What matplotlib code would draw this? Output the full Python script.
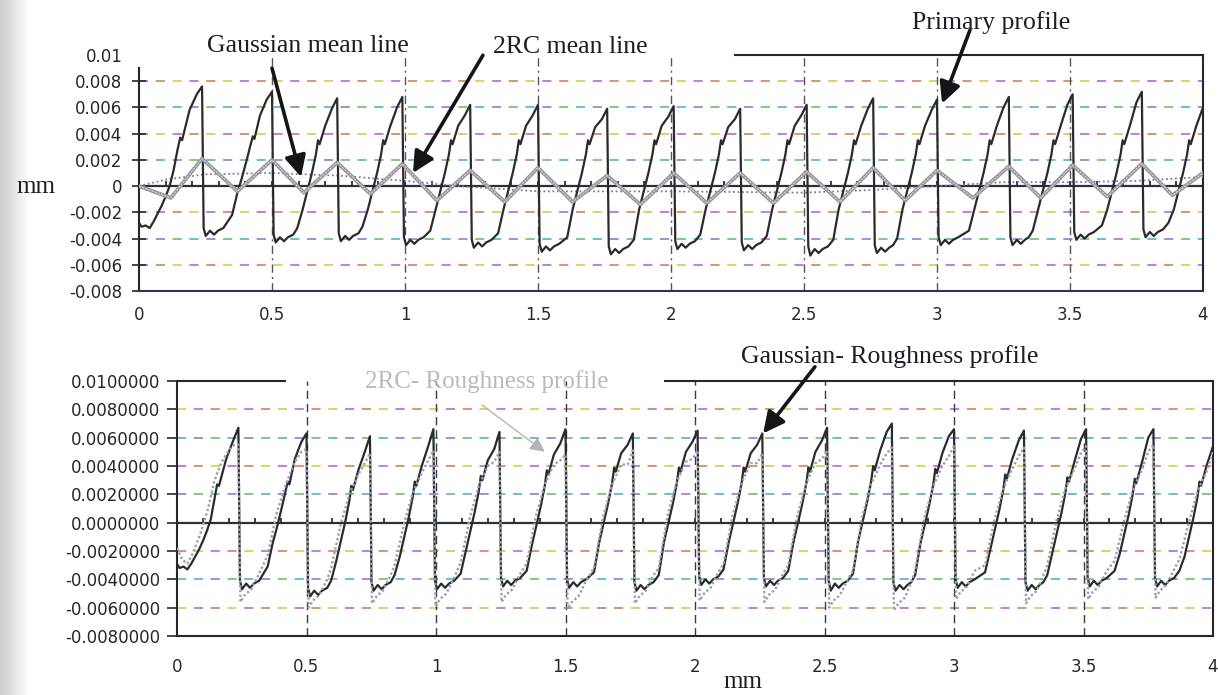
import numpy as np
import matplotlib
matplotlib.use('Agg')
import matplotlib.pyplot as plt

# ---------------- measured profiles (mm) ----------------
primary_x = [
    0.000, 0.010, 0.025, 0.040, 0.055, 0.070, 0.085, 0.100, 0.115, 0.130, 0.145, 0.155, 0.162, 0.190, 0.217,
    0.237, 0.243, 0.251, 0.267, 0.282, 0.297, 0.317, 0.350, 0.370, 0.385, 0.405, 0.420, 0.428, 0.434, 0.455, 0.480,
    0.500, 0.506, 0.514, 0.530, 0.545, 0.560, 0.580, 0.595, 0.615, 0.630, 0.650, 0.665, 0.673, 0.679, 0.700, 0.725,
    0.745, 0.751, 0.759, 0.775, 0.790, 0.805, 0.825, 0.840, 0.860, 0.875, 0.895, 0.910, 0.918, 0.924, 0.945, 0.970,
    0.990, 0.996, 1.004, 1.020, 1.035, 1.050, 1.070, 1.095, 1.115, 1.130, 1.150, 1.165, 1.173, 1.179, 1.200, 1.225,
    1.245, 1.251, 1.259, 1.275, 1.290, 1.305, 1.325, 1.350, 1.370, 1.385, 1.405, 1.420, 1.428, 1.434, 1.455, 1.480,
    1.500, 1.506, 1.514, 1.530, 1.545, 1.560, 1.580, 1.610, 1.630, 1.645, 1.665, 1.680, 1.688, 1.694, 1.715, 1.740,
    1.760, 1.766, 1.774, 1.790, 1.805, 1.820, 1.840, 1.860, 1.880, 1.895, 1.915, 1.930, 1.938, 1.944, 1.965, 1.990,
    2.010, 2.016, 2.024, 2.040, 2.055, 2.070, 2.090, 2.110, 2.130, 2.145, 2.165, 2.180, 2.188, 2.194, 2.215, 2.240,
    2.260, 2.266, 2.274, 2.290, 2.305, 2.320, 2.340, 2.360, 2.380, 2.395, 2.415, 2.430, 2.438, 2.444, 2.465, 2.490,
    2.510, 2.516, 2.524, 2.540, 2.555, 2.570, 2.590, 2.610, 2.630, 2.645, 2.665, 2.680, 2.688, 2.694, 2.715, 2.740,
    2.760, 2.766, 2.774, 2.790, 2.805, 2.820, 2.835, 2.850, 2.870, 2.885, 2.905, 2.920, 2.928, 2.934, 2.955, 2.980,
    3.000, 3.006, 3.014, 3.030, 3.045, 3.060, 3.080, 3.120, 3.140, 3.155, 3.175, 3.190, 3.198, 3.204, 3.225, 3.250,
    3.270, 3.276, 3.284, 3.300, 3.315, 3.330, 3.345, 3.360, 3.380, 3.395, 3.415, 3.430, 3.438, 3.444, 3.465, 3.490,
    3.510, 3.516, 3.524, 3.540, 3.555, 3.570, 3.590, 3.620, 3.640, 3.655, 3.675, 3.690, 3.698, 3.704, 3.725, 3.750,
    3.770, 3.776, 3.784, 3.800, 3.815, 3.830, 3.850, 3.870, 3.890, 3.905, 3.925, 3.940, 3.948, 3.954, 3.975, 4.000,
]

primary_y = [
    -0.0028, -0.0031, -0.0030, -0.0032, -0.0027, -0.0021, -0.0015, -0.0008, 0.0000, 0.0012, 0.0028, 0.0037, 0.0035, 0.0058, 0.0070,
    0.0076, -0.0032, -0.0038, -0.0034, -0.0037, -0.0034, -0.0032, -0.0022, -0.0005, 0.0005, 0.0020, 0.0032, 0.0038, 0.0036, 0.0054, 0.0066,
    0.0072, -0.0037, -0.0043, -0.0039, -0.0042, -0.0039, -0.0037, -0.0032, -0.0018, -0.0006, 0.0010, 0.0024, 0.0035, 0.0032, 0.0046, 0.0059,
    0.0067, -0.0036, -0.0042, -0.0038, -0.0041, -0.0038, -0.0036, -0.0031, -0.0018, -0.0006, 0.0010, 0.0024, 0.0035, 0.0032, 0.0046, 0.0060,
    0.0068, -0.0039, -0.0045, -0.0041, -0.0044, -0.0041, -0.0039, -0.0034, -0.0018, -0.0006, 0.0010, 0.0024, 0.0035, 0.0032, 0.0046, 0.0054,
    0.0062, -0.0041, -0.0047, -0.0043, -0.0046, -0.0043, -0.0041, -0.0036, -0.0018, -0.0006, 0.0010, 0.0024, 0.0035, 0.0032, 0.0046, 0.0054,
    0.0062, -0.0044, -0.0050, -0.0046, -0.0049, -0.0046, -0.0044, -0.0039, -0.0018, -0.0006, 0.0010, 0.0024, 0.0035, 0.0032, 0.0045, 0.0051,
    0.0059, -0.0046, -0.0052, -0.0048, -0.0051, -0.0048, -0.0046, -0.0041, -0.0018, -0.0006, 0.0010, 0.0024, 0.0035, 0.0032, 0.0046, 0.0053,
    0.0061, -0.0042, -0.0048, -0.0044, -0.0047, -0.0044, -0.0042, -0.0037, -0.0018, -0.0006, 0.0010, 0.0024, 0.0035, 0.0032, 0.0045, 0.0051,
    0.0059, -0.0043, -0.0049, -0.0045, -0.0048, -0.0045, -0.0043, -0.0038, -0.0018, -0.0006, 0.0010, 0.0024, 0.0035, 0.0032, 0.0046, 0.0054,
    0.0062, -0.0046, -0.0053, -0.0048, -0.0051, -0.0048, -0.0046, -0.0041, -0.0018, -0.0006, 0.0010, 0.0024, 0.0035, 0.0032, 0.0046, 0.0059,
    0.0067, -0.0045, -0.0051, -0.0047, -0.0050, -0.0047, -0.0045, -0.0040, -0.0018, -0.0006, 0.0010, 0.0024, 0.0035, 0.0032, 0.0046, 0.0058,
    0.0066, -0.0039, -0.0045, -0.0041, -0.0044, -0.0041, -0.0039, -0.0034, -0.0018, -0.0006, 0.0010, 0.0024, 0.0035, 0.0032, 0.0046, 0.0060,
    0.0068, -0.0039, -0.0045, -0.0041, -0.0044, -0.0041, -0.0039, -0.0034, -0.0018, -0.0006, 0.0010, 0.0024, 0.0035, 0.0032, 0.0046, 0.0062,
    0.0070, -0.0035, -0.0041, -0.0037, -0.0040, -0.0037, -0.0035, -0.0030, -0.0018, -0.0006, 0.0010, 0.0024, 0.0035, 0.0032, 0.0046, 0.0064,
    0.0072, -0.0033, -0.0039, -0.0035, -0.0038, -0.0035, -0.0033, -0.0028, -0.0018, -0.0006, 0.0010, 0.0024, 0.0035, 0.0032, 0.0046, 0.0060,
]

# Gaussian mean line (slowly varying, dotted)
gauss_mean_x = [0.0, 0.1, 0.25, 0.5, 0.75, 1.0, 1.2, 1.5, 2.0, 2.5, 2.75, 3.0, 3.25, 3.5, 3.75, 4.0]
gauss_mean_y = [0.0, 0.0005, 0.0009, 0.0010, 0.0008, 0.0004, 0.0, -0.0004, -0.0004, -0.0005, -0.0003, 0.0, 0.0003, 0.0003, 0.0004, 0.0007]

# 2RC mean line (zig-zag)
rc_mean_x = [0.0, 0.12, 0.237, 0.37, 0.5, 0.62, 0.745, 0.87, 0.99, 1.12, 1.245, 1.375, 1.5, 1.63, 1.76,
             1.885, 2.01, 2.135, 2.26, 2.385, 2.51, 2.635, 2.76, 2.88, 3.0, 3.135, 3.27, 3.39, 3.51,
             3.64, 3.77, 3.885, 4.0]
rc_mean_y = [0.0, -0.0009, 0.0021, -0.0004, 0.0020, -0.0005, 0.0018, -0.0006, 0.0017, -0.0011, 0.0012,
             -0.0012, 0.0014, -0.0012, 0.0008, -0.0014, 0.0010, -0.0013, 0.0010, -0.0013, 0.0011, -0.0012,
             0.0014, -0.0011, 0.0012, -0.0009, 0.0015, -0.0009, 0.0016, -0.0008, 0.0017, -0.0007, 0.0010]

# Gaussian roughness profile, sampled on primary_x
gauss_rough_y = [
    -0.0029, -0.0032, -0.0031, -0.0033, -0.0029, -0.0024, -0.0019, -0.0013, -0.0006, 0.0002, 0.0017, 0.0027, 0.0026, 0.0045, 0.0058,
    0.0067, -0.0041, -0.0047, -0.0043, -0.0046, -0.0043, -0.0041, -0.0031, -0.0014, -0.0004, 0.0011, 0.0023, 0.0029, 0.0027, 0.0045, 0.0057,
    0.0063, -0.0046, -0.0052, -0.0048, -0.0051, -0.0048, -0.0046, -0.0041, -0.0027, -0.0015, 0.0001, 0.0015, 0.0026, 0.0023, 0.0037, 0.0050,
    0.0061, -0.0042, -0.0048, -0.0044, -0.0047, -0.0044, -0.0042, -0.0037, -0.0024, -0.0012, 0.0004, 0.0018, 0.0029, 0.0026, 0.0040, 0.0054,
    0.0066, -0.0041, -0.0047, -0.0043, -0.0046, -0.0043, -0.0041, -0.0036, -0.0020, -0.0008, 0.0008, 0.0022, 0.0033, 0.0030, 0.0044, 0.0052,
    0.0064, -0.0039, -0.0045, -0.0041, -0.0044, -0.0041, -0.0039, -0.0034, -0.0016, -0.0004, 0.0012, 0.0026, 0.0037, 0.0034, 0.0048, 0.0056,
    0.0066, -0.0040, -0.0046, -0.0042, -0.0045, -0.0042, -0.0040, -0.0035, -0.0014, -0.0002, 0.0014, 0.0028, 0.0039, 0.0036, 0.0049, 0.0055,
    0.0063, -0.0042, -0.0048, -0.0044, -0.0047, -0.0044, -0.0042, -0.0037, -0.0014, -0.0002, 0.0014, 0.0028, 0.0039, 0.0036, 0.0050, 0.0057,
    0.0065, -0.0038, -0.0044, -0.0040, -0.0043, -0.0040, -0.0038, -0.0033, -0.0014, -0.0002, 0.0014, 0.0028, 0.0039, 0.0036, 0.0049, 0.0055,
    0.0063, -0.0039, -0.0045, -0.0041, -0.0044, -0.0041, -0.0039, -0.0034, -0.0014, -0.0002, 0.0014, 0.0028, 0.0039, 0.0036, 0.0050, 0.0058,
    0.0067, -0.0041, -0.0048, -0.0043, -0.0046, -0.0043, -0.0041, -0.0036, -0.0013, -0.0001, 0.0015, 0.0029, 0.0040, 0.0037, 0.0051, 0.0064,
    0.0070, -0.0042, -0.0048, -0.0044, -0.0047, -0.0044, -0.0042, -0.0037, -0.0015, -0.0003, 0.0013, 0.0027, 0.0038, 0.0035, 0.0049, 0.0061,
    0.0066, -0.0040, -0.0046, -0.0042, -0.0045, -0.0042, -0.0040, -0.0035, -0.0019, -0.0007, 0.0009, 0.0023, 0.0034, 0.0031, 0.0045, 0.0058,
    0.0065, -0.0042, -0.0048, -0.0044, -0.0047, -0.0044, -0.0042, -0.0037, -0.0021, -0.0009, 0.0007, 0.0021, 0.0032, 0.0029, 0.0043, 0.0059,
    0.0066, -0.0039, -0.0045, -0.0041, -0.0044, -0.0041, -0.0039, -0.0034, -0.0022, -0.0010, 0.0006, 0.0020, 0.0031, 0.0028, 0.0042, 0.0060,
    0.0066, -0.0039, -0.0045, -0.0041, -0.0044, -0.0041, -0.0039, -0.0034, -0.0024, -0.0012, 0.0004, 0.0018, 0.0029, 0.0026, 0.0040, 0.0054,
]

# 2RC roughness profile
rc_rough_x = [
    0.000, 0.020, 0.040, 0.060, 0.090, 0.120, 0.145, 0.170, 0.200, 0.222,
    0.237, 0.245, 0.262, 0.287, 0.317, 0.350, 0.385, 0.420, 0.455, 0.480,
    0.500, 0.508, 0.525, 0.550, 0.580, 0.595, 0.630, 0.665, 0.700, 0.725,
    0.745, 0.753, 0.770, 0.795, 0.825, 0.840, 0.875, 0.910, 0.945, 0.970,
    0.990, 0.998, 1.015, 1.040, 1.070, 1.095, 1.130, 1.165, 1.200, 1.225,
    1.245, 1.253, 1.270, 1.295, 1.325, 1.350, 1.385, 1.420, 1.455, 1.480,
    1.500, 1.508, 1.525, 1.550, 1.580, 1.610, 1.645, 1.680, 1.715, 1.740,
    1.760, 1.768, 1.785, 1.810, 1.840, 1.860, 1.895, 1.930, 1.965, 1.990,
    2.010, 2.018, 2.035, 2.060, 2.090, 2.110, 2.145, 2.180, 2.215, 2.240,
    2.260, 2.268, 2.285, 2.310, 2.340, 2.360, 2.395, 2.430, 2.465, 2.490,
    2.510, 2.518, 2.535, 2.560, 2.590, 2.610, 2.645, 2.680, 2.715, 2.740,
    2.760, 2.768, 2.785, 2.810, 2.835, 2.850, 2.885, 2.920, 2.955, 2.980,
    3.000, 3.008, 3.025, 3.050, 3.080, 3.120, 3.155, 3.190, 3.225, 3.250,
    3.270, 3.278, 3.295, 3.320, 3.345, 3.360, 3.395, 3.430, 3.465, 3.490,
    3.510, 3.518, 3.535, 3.560, 3.590, 3.620, 3.655, 3.690, 3.725, 3.750,
    3.770, 3.778, 3.795, 3.820, 3.850, 3.870, 3.905, 3.940, 3.975, 4.000,
]
rc_rough_y = [
    -0.0018, -0.0026, -0.0029, -0.0022, -0.0008, 0.0010, 0.0030, 0.0042, 0.0051, 0.0055,
    0.0055, -0.0056, -0.0051, -0.0047, -0.0036, -0.0023, 0.0007, 0.0027, 0.0043, 0.0050,
    0.0052, -0.0060, -0.0055, -0.0051, -0.0040, -0.0032, -0.0003, 0.0020, 0.0034, 0.0042,
    0.0049, -0.0057, -0.0052, -0.0048, -0.0037, -0.0030, -0.0002, 0.0021, 0.0035, 0.0044,
    0.0051, -0.0059, -0.0054, -0.0050, -0.0039, -0.0028, 0.0003, 0.0026, 0.0040, 0.0043,
    0.0050, -0.0056, -0.0051, -0.0047, -0.0036, -0.0029, 0.0004, 0.0027, 0.0041, 0.0044,
    0.0048, -0.0061, -0.0056, -0.0052, -0.0041, -0.0032, 0.0004, 0.0027, 0.0041, 0.0041,
    0.0051, -0.0057, -0.0052, -0.0048, -0.0037, -0.0032, 0.0006, 0.0029, 0.0043, 0.0045,
    0.0051, -0.0055, -0.0050, -0.0046, -0.0035, -0.0029, 0.0005, 0.0028, 0.0042, 0.0042,
    0.0049, -0.0056, -0.0051, -0.0047, -0.0036, -0.0030, 0.0005, 0.0028, 0.0042, 0.0045,
    0.0051, -0.0060, -0.0055, -0.0051, -0.0040, -0.0034, 0.0004, 0.0027, 0.0041, 0.0049,
    0.0053, -0.0062, -0.0057, -0.0053, -0.0042, -0.0034, 0.0003, 0.0026, 0.0040, 0.0047,
    0.0054, -0.0054, -0.0049, -0.0045, -0.0034, -0.0030, 0.0001, 0.0024, 0.0038, 0.0047,
    0.0053, -0.0057, -0.0052, -0.0048, -0.0037, -0.0030, 0.0001, 0.0024, 0.0038, 0.0049,
    0.0054, -0.0054, -0.0049, -0.0045, -0.0034, -0.0027, 0.0000, 0.0023, 0.0037, 0.0050,
    0.0055, -0.0053, -0.0048, -0.0044, -0.0033, -0.0026, -0.0001, 0.0022, 0.0036, 0.0050,
]

x_ticks = [0, 0.5, 1, 1.5, 2, 2.5, 3, 3.5, 4]
x_grid = [0.5, 1, 1.5, 2, 2.5, 3, 3.5]
y_ticks = [-0.008, -0.006, -0.004, -0.002, 0, 0.002, 0.004, 0.006, 0.008, 0.01]
top_grid = [-0.006, -0.004, -0.002, 0.002, 0.004, 0.006, 0.008]
bottom_grid = [-0.006, -0.004, -0.002, 0.002, 0.004, 0.006, 0.008]

# ---------------- styling ----------------
W, H = 1218, 695
DARK = '#26262e'
SERIF = ['Liberation Serif', 'DejaVu Serif']
GRID_COLORS = ['#b35bc9', '#3eaec6', '#d9c43e', '#5dbd62', '#d0784f', '#8a6fd0']
TICK_SIZE = 12

plt.rcParams['font.family'] = ['DejaVu Sans']


def px(x, y):
    """figure-fraction coordinates from pixel position (origin top-left)"""
    return x / W, 1 - y / H


def colour_dash_line(ax, y, k):
    # dashes that change colour along the line, like a printed spreadsheet grid
    for i in range(3):
        ax.axhline(y, color=GRID_COLORS[(k + i * 2) % len(GRID_COLORS)], lw=1.1,
                   linestyle=(i * 11, (6, 27)), zorder=1)


def style_axes(ax, left, bottom, width, height):
    ax.set_position([left, bottom, width, height])
    ax.set_xlim(0, 4)
    ax.set_ylim(-0.008, 0.01)
    ax.set_xticks(x_ticks)
    ax.set_xticklabels(['%g' % v for v in x_ticks])
    ax.set_yticks(y_ticks)
    for s in ax.spines.values():
        s.set_color(DARK)
        s.set_linewidth(1.5)


fig = plt.figure(figsize=(W / 100, H / 100), dpi=100)
fig.patch.set_facecolor('white')

# scanner shading along the left edge
edge = fig.add_axes([0, 0, 30 / W, 1], zorder=-5)
edge.imshow(np.linspace(0.8, 1.0, 64)[None, :], cmap='gray', vmin=0, vmax=1,
            aspect='auto', extent=[0, 1, 0, 1])
edge.axis('off')

# ---------------- top panel: primary profile + mean lines ----------------
ax1 = fig.add_axes([0, 0, 1, 1])
l, b = px(139, 291)
r, t = px(1203, 55)
style_axes(ax1, l, b, r - l, t - b)
ax1.set_yticklabels(['%g' % v for v in y_ticks])
ax1.tick_params(axis='y', direction='inout', length=10, width=1.2, pad=7, labelsize=TICK_SIZE, colors=DARK)
ax1.tick_params(axis='x', length=0, pad=11, labelsize=TICK_SIZE, colors=DARK)
ax1.yaxis.get_major_ticks()[-1].tick1line.set_visible(False)
ax1.spines['left'].set_bounds(-0.008, 0.009)
ax1.spines['top'].set_bounds(2.24, 4.0)
ax1.spines['bottom'].set_color('#3d2d52')

for k, gy in enumerate(top_grid):
    colour_dash_line(ax1, gy, k)
for gx in x_grid:
    ax1.axvline(gx, color='#555560', lw=1.0, linestyle=(0, (6, 3, 1.5, 3)), zorder=1)
ax1.axhline(0, color='#2e2e3a', lw=1.6, zorder=2)
ax1.vlines(np.arange(0.1, 4.0, 0.1), 0, 0.00038, color='#2e2e3a', lw=1.3, zorder=2)

ax1.plot(gauss_mean_x, gauss_mean_y, color='#8574aa', lw=1.3, linestyle=(0, (1, 1.5)), zorder=3)
ax1.plot(primary_x, primary_y, color='#2b2b2b', lw=1.6, zorder=4)
ax1.plot(rc_mean_x, rc_mean_y, color='#949498', lw=2.7, zorder=5)
ax1.plot(rc_mean_x, rc_mean_y, color='#d9d9dc', lw=0.8, zorder=6, linestyle=(0, (2, 1)))

ax1.text(*px(308, 52), 'Gaussian mean line', transform=fig.transFigure, ha='center',
         va='baseline', fontsize=18.5, family=SERIF, color='#1c1c28')
ax1.text(*px(570, 53), '2RC mean line', transform=fig.transFigure, ha='center',
         va='baseline', fontsize=18.5, family=SERIF, color='#1c1c28')
ax1.text(*px(991, 29), 'Primary profile', transform=fig.transFigure, ha='center',
         va='baseline', fontsize=18.5, family=SERIF, color='#1c1c28')
fig.text(*px(36, 193), 'mm', ha='center', va='baseline', fontsize=18, family=SERIF, color='#1c1c28')

arrow = dict(arrowstyle='-|>', color='#151515', lw=2.6, mutation_scale=32, shrinkA=0, shrinkB=0)
ax1.annotate('', xy=(0.609, 0.0007), xytext=(0.50, 0.009), arrowprops=arrow, annotation_clip=False)
ax1.annotate('', xy=(1.03, 0.0010), xytext=(1.293, 0.00998), arrowprops=arrow, annotation_clip=False)
ax1.annotate('', xy=(3.019, 0.0063), xytext=(3.124, 0.0119), arrowprops=arrow, annotation_clip=False)

# ---------------- bottom panel: roughness profiles ----------------
ax2 = fig.add_axes([0, 0, 1, 1])
l, b = px(177, 636)
r, t = px(1213, 381)
style_axes(ax2, l, b, r - l, t - b)
ax2.set_yticklabels(['%.7f' % v for v in y_ticks])
ax2.tick_params(axis='y', direction='out', length=7, width=1.2, pad=5, labelsize=TICK_SIZE, colors=DARK)
ax2.tick_params(axis='x', length=0, pad=16, labelsize=TICK_SIZE, colors=DARK)
ax2.spines['top'].set_visible(False)
ax2.hlines([0.01, 0.01], [0, 1.88], [0.42, 4.0], color=DARK, lw=1.5, clip_on=False, zorder=3)

for k, gy in enumerate(bottom_grid):
    colour_dash_line(ax2, gy, k + 2)
for gx in x_grid:
    ax2.axvline(gx, color='#3a3a44', lw=1.0, linestyle=(0, (6, 3.5)), zorder=1)
ax2.axhline(0, color='#2e2e3a', lw=1.6, zorder=2)
ax2.vlines(np.arange(0.1, 4.0, 0.1), 0, 0.00036, color='#2e2e3a', lw=1.3, zorder=2)

ax2.plot(primary_x, gauss_rough_y, color='#2b2b2b', lw=1.6, zorder=4)
ax2.plot(rc_rough_x, rc_rough_y, color='#98a1ac', lw=1.7, linestyle=(0, (1, 1)), zorder=5)

fig.text(*px(890, 363), 'Gaussian- Roughness profile', ha='center', va='baseline',
         fontsize=18.5, family=SERIF, color='#1c1c28')
fig.text(*px(487, 388), '2RC- Roughness profile', ha='center', va='baseline',
         fontsize=18, family=SERIF, color='#b9b9be')
fig.text(*px(743, 688), 'mm', ha='center', va='baseline', fontsize=18, family=SERIF, color='#1c1c28')

ax2.annotate('', xy=(2.263, 0.0063), xytext=(2.463, 0.011), arrowprops=arrow, annotation_clip=False)
ax2.annotate('', xy=(1.42, 0.0050), xytext=(1.178, 0.0083), annotation_clip=False,
             arrowprops=dict(arrowstyle='-|>', color='#b4b4b9', lw=1.0, mutation_scale=22,
                             shrinkA=0, shrinkB=0))

fig.savefig('out.png', dpi=100)
